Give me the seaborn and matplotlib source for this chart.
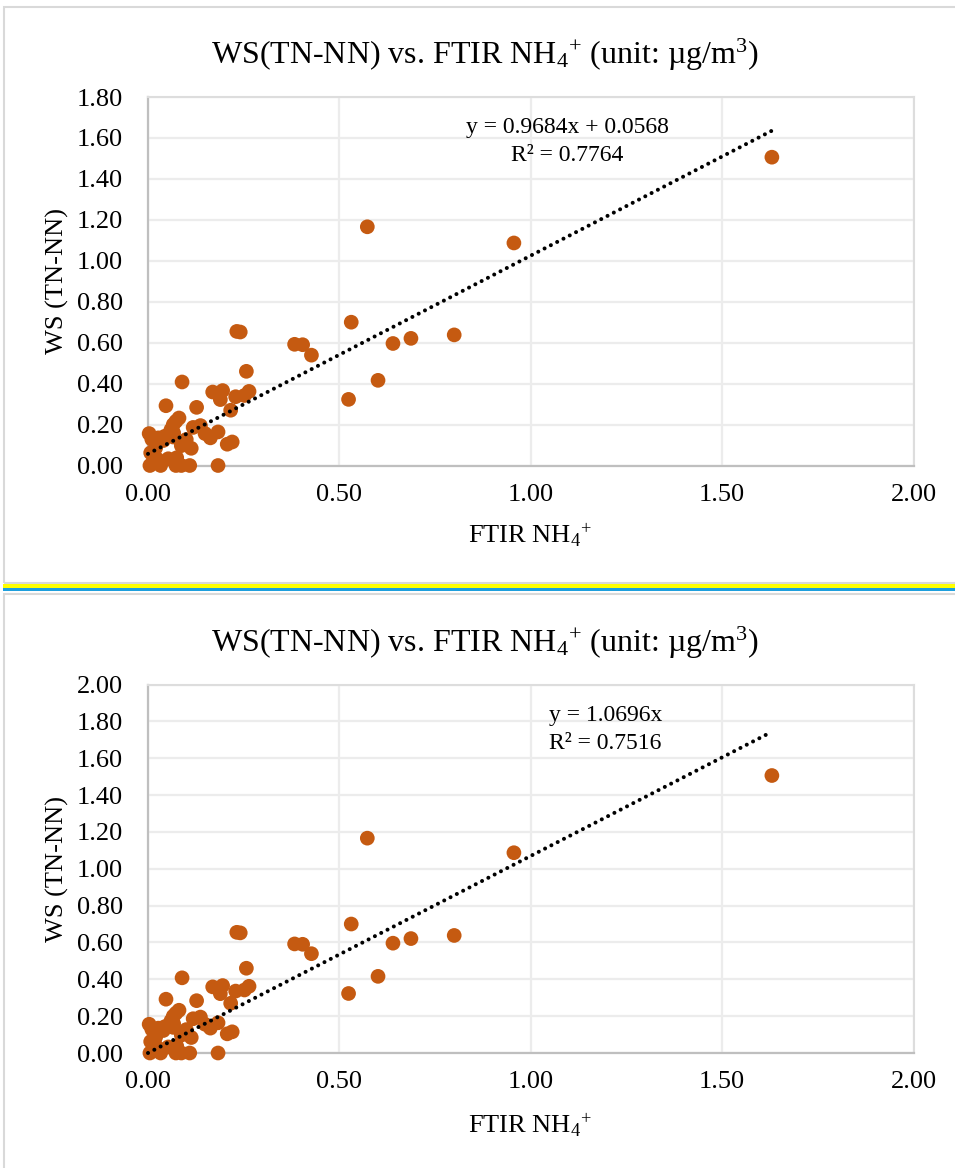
import numpy as np
import pandas as pd
import matplotlib
matplotlib.use("Agg")
import matplotlib.pyplot as plt
import seaborn as sns
from matplotlib.patches import Rectangle

# ---------------- data ----------------
ftir_nh4 = [1.630, 0.573, 0.956, 0.531, 0.800, 0.687, 0.640, 0.601, 0.524,
            0.232, 0.241, 0.383, 0.404, 0.427, 0.257, 0.089, 0.264, 0.169,
            0.195, 0.189, 0.229, 0.252, 0.047, 0.127, 0.216, 0.081, 0.073,
            0.066, 0.060, 0.118, 0.137, 0.149, 0.163, 0.183, 0.207, 0.220,
            0.100, 0.087, 0.113, 0.097, 0.003, 0.010, 0.027, 0.044, 0.067,
            0.040, 0.066, 0.007, 0.020, 0.005, 0.033, 0.073, 0.087, 0.109,
            0.183, 0.023, 0.053, 0.075, 0.015]
ws_tn_nn = [1.506, 1.166, 1.087, 0.700, 0.638, 0.621, 0.596, 0.416, 0.323,
            0.655, 0.652, 0.592, 0.590, 0.539, 0.460, 0.408, 0.362, 0.359,
            0.366, 0.322, 0.336, 0.342, 0.292, 0.284, 0.270, 0.232, 0.216,
            0.200, 0.175, 0.186, 0.195, 0.156, 0.135, 0.164, 0.104, 0.115,
            0.127, 0.097, 0.084, 0.114, 0.156, 0.128, 0.135, 0.143, 0.159,
            0.122, 0.139, 0.062, 0.086, 0.000, 0.000, 0.000, 0.000, 0.000,
            0.000, 0.033, 0.033, 0.038, 0.030]

fit_slope = [0.9684, 1.0696]
fit_intercept = [0.0568, 0.0]
eq_lines = [["y = 0.9684x + 0.0568", "R\u00b2 = 0.7764"],
            ["y = 1.0696x", "R\u00b2 = 0.7516"]]
x_ticks = [0.0, 0.5, 1.0, 1.5, 2.0]
y_ticks = [[0.0, 0.2, 0.4, 0.6, 0.8, 1.0, 1.2, 1.4, 1.6, 1.8],
           [0.0, 0.2, 0.4, 0.6, 0.8, 1.0, 1.2, 1.4, 1.6, 1.8, 2.0]]
title_text = "WS(TN-NN) vs. FTIR NH$_4$$^{+}$ (unit: \u00b5g/m$^{3}$)"
xlabel_text = "FTIR NH$_4$$^{+}$"
ylabel_text = "WS (TN-NN)"

df = pd.DataFrame({"ftir": ftir_nh4, "ws": ws_tn_nn})

# ---------------- style ----------------
sns.set_theme(style="white")
plt.rcParams["font.family"] = ["Liberation Serif", "DejaVu Serif"]
plt.rcParams["mathtext.fontset"] = "custom"
plt.rcParams["mathtext.rm"] = "Liberation Serif"
plt.rcParams["mathtext.it"] = "Liberation Serif:italic"
plt.rcParams["mathtext.bf"] = "Liberation Serif:bold"
plt.rcParams["mathtext.default"] = "rm"

W, H = 955, 1168
fig = plt.figure(figsize=(W / 100, H / 100), dpi=100)
fig.patch.set_facecolor("white")

def fx(px):
    return px / W

def fy(py):
    return 1 - py / H

# panel borders
fig.add_artist(Rectangle((fx(4), fy(583)), 1.2, fy(7) - fy(583),
                         transform=fig.transFigure, fill=False,
                         edgecolor="#D9D9D9", linewidth=1.5))
fig.add_artist(Rectangle((fx(4), fy(1200)), 1.2, fy(594) - fy(1200),
                         transform=fig.transFigure, fill=False,
                         edgecolor="#D9D9D9", linewidth=1.5))
# separator bands
fig.add_artist(Rectangle((fx(3), fy(588)), 1.0, fy(584) - fy(588),
                         transform=fig.transFigure, facecolor="#FFFF00",
                         edgecolor="none"))
fig.add_artist(Rectangle((fx(3), fy(590.5)), 1.0, fy(588) - fy(590.5),
                         transform=fig.transFigure, facecolor="#1E9FDD",
                         edgecolor="none"))

panels = [
    dict(ax_top=97, ax_bot=465.5, ymax=1.8, title_base=64, xlabel_base=543,
         eq_x=1.095, eq_y=(1.652, 1.515)),
    dict(ax_top=684.5, ax_bot=1053, ymax=2.0, title_base=652, xlabel_base=1133,
         eq_x=1.195, eq_y=(1.834, 1.682)),
]

left_px, right_px = 148, 913.5
for i, p in enumerate(panels):
    ax = fig.add_axes([fx(left_px), fy(p["ax_bot"]),
                       fx(right_px) - fx(left_px), fy(p["ax_top"]) - fy(p["ax_bot"])])
    ax.set_facecolor("white")
    ax.set_xlim(0, 2.0)
    ax.set_ylim(0, p["ymax"])
    ax.set_xticks(x_ticks)
    ax.set_yticks(y_ticks[i])
    ax.set_xticklabels([f"{v:.2f}" for v in x_ticks])
    ax.set_yticklabels([f"{v:.2f}" for v in y_ticks[i]])
    ax.tick_params(axis="both", length=0, labelsize=19, colors="black")
    ax.tick_params(axis="y", pad=18)
    ax.tick_params(axis="x", pad=13)
    ax.grid(True, color="#ECECEC", linewidth=1.6)
    ax.set_axisbelow(True)
    for s in ["top", "right"]:
        ax.spines[s].set_color("#DDDDDD")
        ax.spines[s].set_linewidth(1.5)
    for s in ["left", "bottom"]:
        ax.spines[s].set_color("#BFBFBF")
        ax.spines[s].set_linewidth(1.6)

    sns.scatterplot(data=df, x="ftir", y="ws", ax=ax, color="#C55A11",
                    s=112, linewidth=0, edgecolor="none", clip_on=False,
                    zorder=3, legend=False)

    x_fit = np.array([0.0, max(ftir_nh4)])
    y_fit = fit_slope[i] * x_fit + fit_intercept[i]
    ax.plot(x_fit, y_fit, color="black", linewidth=2.9,
            dashes=(0.01, 1.75), dash_capstyle="round", zorder=4,
            clip_on=False)

    ax.set_xlabel("")
    ax.set_ylabel("")

    ax.text(p["eq_x"], p["eq_y"][0], eq_lines[i][0], ha="center", va="center",
            fontsize=17, color="black", zorder=5)
    ax.text(p["eq_x"], p["eq_y"][1], eq_lines[i][1], ha="center", va="center",
            fontsize=17, color="black", zorder=5)

    fig.text(fx(485), fy(p["title_base"]), title_text, ha="center",
             va="baseline", fontsize=23, color="black")
    fig.text(fx(530), fy(p["xlabel_base"]), xlabel_text, ha="center",
             va="baseline", fontsize=19, color="black")
    fig.text(fx(57), fy((p["ax_top"] + p["ax_bot"]) / 2), ylabel_text,
             ha="center", va="center", rotation=90, fontsize=19, color="black")

fig.savefig("out.png", dpi=100, facecolor="white")
